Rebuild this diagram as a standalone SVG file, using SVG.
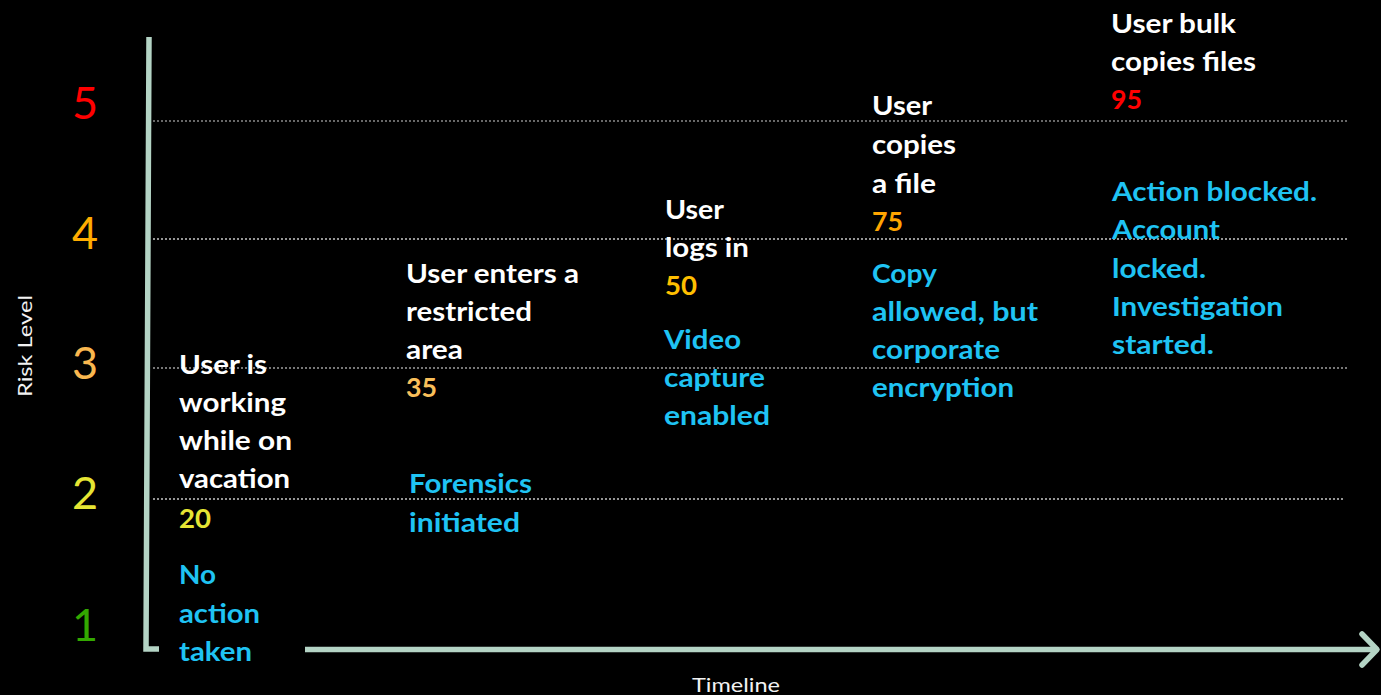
<svg xmlns="http://www.w3.org/2000/svg" width="1381" height="695" viewBox="0 0 1381 695">
<style>
.t{font-family:Lato,"Open Sans","Liberation Sans",sans-serif;font-weight:bold;font-size:26px}
.w{fill:#ffffff}
.b{fill:#1fc3f3}
.ax{fill:none;stroke:#b4d4c5;stroke-width:5.5}
.g{stroke:#c8c8c8;stroke-width:1.3;stroke-dasharray:2 2}
.n{font-family:Lato,"Open Sans","Liberation Sans",sans-serif;font-size:45px;text-anchor:middle}
.lab{font-family:Lato,"Open Sans","Liberation Sans",sans-serif;font-size:20px;fill:#f2f2f2}
</style>
<rect width="1381" height="695" fill="#000"/>
<g id="grid">
<line class="g" x1="153" y1="121" x2="1347" y2="121" style="stroke:#8a8a8a"/>
<line class="g" x1="153" y1="239" x2="1347" y2="239"/>
<line class="g" x1="153" y1="368" x2="1347" y2="368" style="stroke:#a0a0a0"/>
<line class="g" x1="153" y1="499" x2="1345" y2="499"/>
</g>
<g id="connectors">
<path class="ax" d="M149,37 L146,649 L159,649"/>
<path class="ax" d="M305,649.5 L1376,649.5"/>
<path class="ax" d="M1362,634 L1377,649.5 L1362,665" stroke-linecap="round" stroke-linejoin="round"/>
</g>
<g id="yaxis-labels">
<text class="n" x="85" y="119" fill="#ff0000">5</text>
<text class="n" x="85" y="249" fill="#ffac00">4</text>
<text class="n" x="85" y="379" fill="#f9b74f">3</text>
<text class="n" x="85" y="509" fill="#e6e534">2</text>
<text class="n" x="85" y="641" fill="#33a800">1</text>
<text class="lab" transform="translate(32,397) rotate(-90)" textLength="102" lengthAdjust="spacingAndGlyphs">Risk Level</text>
<text class="lab" x="692" y="692" textLength="88" lengthAdjust="spacingAndGlyphs">Timeline</text>
</g>
<g id="event1">
<text class="t w" x="179" y="374" textLength="88" lengthAdjust="spacingAndGlyphs">User is</text>
<text class="t w" x="179" y="412" textLength="107" lengthAdjust="spacingAndGlyphs">working</text>
<text class="t w" x="179" y="450" textLength="113" lengthAdjust="spacingAndGlyphs">while on</text>
<text class="t w" x="179" y="488" textLength="111" lengthAdjust="spacingAndGlyphs">vacation</text>
<text class="t" x="179" y="528" fill="#e6e534" textLength="32" lengthAdjust="spacingAndGlyphs">20</text>
<text class="t b" x="179" y="584" textLength="37" lengthAdjust="spacingAndGlyphs">No</text>
<text class="t b" x="179" y="623" textLength="81" lengthAdjust="spacingAndGlyphs">action</text>
<text class="t b" x="179" y="661" textLength="73" lengthAdjust="spacingAndGlyphs">taken</text>
</g>
<g id="event2">
<text class="t w" x="406" y="283" textLength="173" lengthAdjust="spacingAndGlyphs">User enters a</text>
<text class="t w" x="406" y="321" textLength="126" lengthAdjust="spacingAndGlyphs">restricted</text>
<text class="t w" x="406" y="359" textLength="57" lengthAdjust="spacingAndGlyphs">area</text>
<text class="t" x="406" y="397" fill="#f9bf5a" textLength="31" lengthAdjust="spacingAndGlyphs">35</text>
<text class="t b" x="409" y="493" textLength="123" lengthAdjust="spacingAndGlyphs">Forensics</text>
<text class="t b" x="409" y="532" textLength="111" lengthAdjust="spacingAndGlyphs">initiated</text>
</g>
<g id="event3">
<text class="t w" x="665" y="219" textLength="59" lengthAdjust="spacingAndGlyphs">User</text>
<text class="t w" x="665" y="257" textLength="84" lengthAdjust="spacingAndGlyphs">logs in</text>
<text class="t" x="665" y="295" fill="#ffbf00" textLength="32" lengthAdjust="spacingAndGlyphs">50</text>
<text class="t b" x="664" y="349" textLength="77" lengthAdjust="spacingAndGlyphs">Video</text>
<text class="t b" x="664" y="387" textLength="101" lengthAdjust="spacingAndGlyphs">capture</text>
<text class="t b" x="664" y="425" textLength="106" lengthAdjust="spacingAndGlyphs">enabled</text>
</g>
<g id="event4">
<text class="t w" x="872" y="115" textLength="60" lengthAdjust="spacingAndGlyphs">User</text>
<text class="t w" x="872" y="154" textLength="84" lengthAdjust="spacingAndGlyphs">copies</text>
<text class="t w" x="872" y="193" textLength="64" lengthAdjust="spacingAndGlyphs">a file</text>
<text class="t" x="872" y="231" fill="#ffa500" textLength="31" lengthAdjust="spacingAndGlyphs">75</text>
<text class="t b" x="872" y="283" textLength="65" lengthAdjust="spacingAndGlyphs">Copy</text>
<text class="t b" x="872" y="321" textLength="166" lengthAdjust="spacingAndGlyphs">allowed, but</text>
<text class="t b" x="872" y="359" textLength="128" lengthAdjust="spacingAndGlyphs">corporate</text>
<text class="t b" x="872" y="397" textLength="142" lengthAdjust="spacingAndGlyphs">encryption</text>
</g>
<g id="event5">
<text class="t w" x="1111" y="33" textLength="125" lengthAdjust="spacingAndGlyphs">User bulk</text>
<text class="t w" x="1111" y="71" textLength="145" lengthAdjust="spacingAndGlyphs">copies files</text>
<text class="t" x="1111" y="109" fill="#ff0000" textLength="31" lengthAdjust="spacingAndGlyphs">95</text>
<text class="t b" x="1112" y="201" textLength="205" lengthAdjust="spacingAndGlyphs">Action blocked.</text>
<text class="t b" x="1112" y="239" textLength="108" lengthAdjust="spacingAndGlyphs">Account</text>
<text class="t b" x="1112" y="278" textLength="94" lengthAdjust="spacingAndGlyphs">locked.</text>
<text class="t b" x="1112" y="316" textLength="171" lengthAdjust="spacingAndGlyphs">Investigation</text>
<text class="t b" x="1112" y="354" textLength="102" lengthAdjust="spacingAndGlyphs">started.</text>
</g>
</svg>
